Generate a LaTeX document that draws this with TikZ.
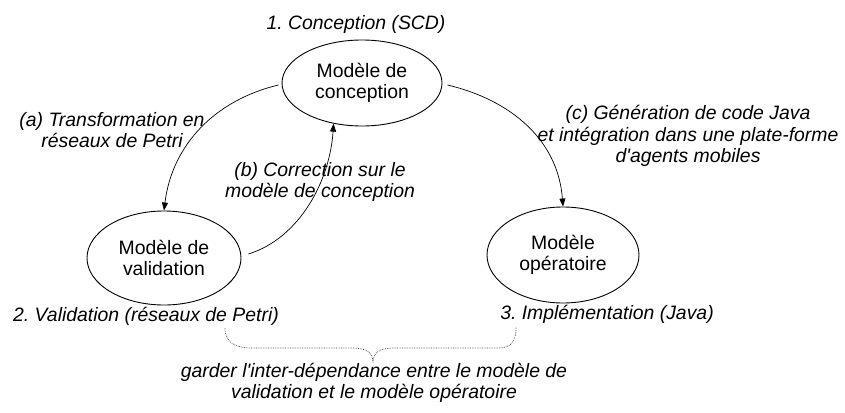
\documentclass[tikz,border=0pt]{standalone}
\usepackage{fontspec}
\newfontfamily\arial{Liberation Sans}
\usetikzlibrary{shapes.geometric,arrows.meta}
\frenchspacing
\begin{document}
\begin{tikzpicture}[x=1pt,y=-1pt,
  model/.style={draw, ellipse, line width=0.9pt, inner sep=0pt, align=center,
    font=\arial\fontsize{19.4}{21}\selectfont},
  lbl/.style={align=center, inner sep=0pt, font=\arial\fontsize{19.4}{21.5}\selectfont\itshape},
  conn/.style={line width=0.7pt, -{Triangle[length=8pt,width=6pt]}},
  bracestyle/.style={densely dotted, line width=0.7pt, black!75}]
\useasboundingbox (0,0) rectangle (845,412);

\node[model, minimum width=160pt, minimum height=86pt] (c) at (362,83) {Modèle de\\conception};
\node[model, minimum width=154pt, minimum height=94pt] (v) at (164,258) {Modèle de\\validation};
\node[model, minimum width=152pt, minimum height=96pt] (o) at (563,255) {Modèle\\opératoire};

\node[lbl] (l1) at (356,24) {1. Conception (SCD)};
\node[lbl] (l2) at (146,316) {2. Validation (réseaux de Petri)};
\node[lbl] (l3) at (607,314) {3. Implémentation (Java)};
\node[lbl] (la) at (112,130) {(a) Transformation en\\réseaux de Petri};
\node[lbl] (lb) at (320,182) {(b) Correction sur le\\modèle de conception};
\node[lbl] (lc) at (688,136) {(c) Génération de code Java\\et intégration dans une plate-forme\\d'agents mobiles};
\node[lbl] (ld) at (374,383) {garder l'inter-dépendance entre le modèle de\\validation et le modèle opératoire};

\draw[conn] ([xshift=-3pt,yshift=-2pt]c.west) .. controls (215,100) and (172,145) .. (v.north);
\draw[conn] ([xshift=7pt,yshift=4pt]v.east) .. controls (300,238) and (330,180) .. (c.235);
\draw[conn] ([xshift=5pt,yshift=-2pt]c.east) .. controls (511,100) and (558,140) .. (o.north);

\draw[bracestyle] (225,328) .. controls (225,343) and (236,348) .. (252,348)
  -- (352,348) .. controls (366,348) and (373,352) .. (373,363)
  .. controls (373,352) and (380,348) .. (394,348)
  -- (498,348) .. controls (511,348) and (516,342) .. (516,327);
\end{tikzpicture}
\end{document}
